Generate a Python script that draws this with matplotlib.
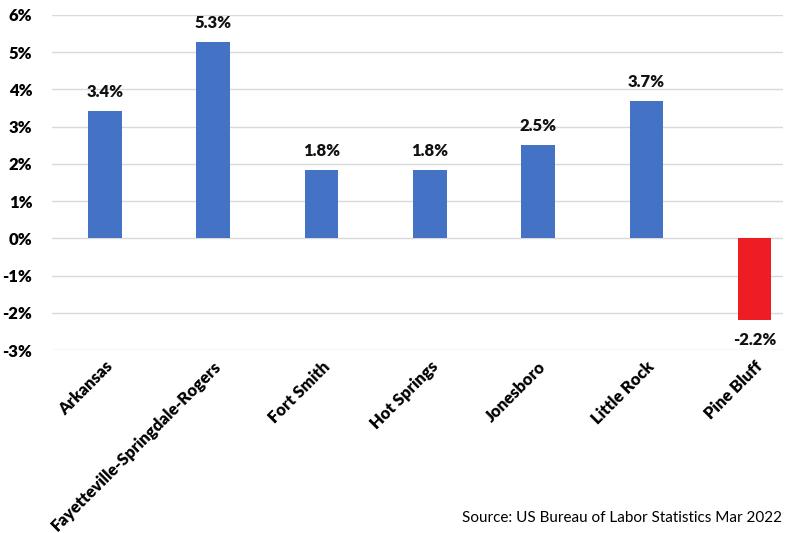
import matplotlib
matplotlib.use("Agg")
from matplotlib import pyplot as plt
from matplotlib.ticker import FuncFormatter

plt.rcParams['font.family'] = ['Lato', 'DejaVu Sans']

# dados
areas = ["Arkansas", "Fayetteville-Springdale-Rogers", "Fort Smith",
         "Hot Springs", "Jonesboro", "Little Rock", "Pine Bluff"]
variacao = [3.41, 5.26, 1.83, 1.84, 2.5, 3.68, -2.2]
rotulos = ["3.4%", "5.3%", "1.8%", "1.8%", "2.5%", "3.7%", "-2.2%"]

cores = ["#4472C4" if v >= 0 else "#EE1D23" for v in variacao]

fig = plt.figure(figsize=(7.86, 5.33), dpi=100)
ax = fig.add_axes([0.066, 0.343, 0.93, 0.629])

x = range(len(areas))
ax.bar(x, variacao, width=0.31, color=cores, zorder=3)

for i, v in enumerate(variacao):
    if v >= 0:
        ax.text(i, v + 0.3, rotulos[i], ha='center', va='bottom',
                fontsize=12, fontweight='heavy', color='#111111')
    else:
        ax.text(i, v - 0.3, rotulos[i], ha='center', va='top',
                fontsize=12, fontweight='heavy', color='#111111')

ax.set_ylim(-3, 6)
ax.set_xlim(-0.49, 6.26)
ax.set_yticks(range(-3, 7))
ax.yaxis.set_major_formatter(FuncFormatter(lambda v, p: "%d%%" % v))
ax.grid(True, axis='y', color='#D9D9D9', linewidth=1, zorder=0)
for s in ax.spines.values():
    s.set_visible(False)
ax.tick_params(length=0)
ax.tick_params(axis='y', pad=14)
ax.tick_params(axis='x', pad=6)

ax.set_xticks(list(x))
ax.set_xticklabels(areas, rotation=45, ha='right', rotation_mode='anchor',
                   fontsize=12, fontweight='heavy')
for t in ax.get_yticklabels():
    t.set_fontsize(12)
    t.set_fontweight('heavy')

fig.text(0.995, 0.028, "Source: US Bureau of Labor Statistics Mar 2022",
         ha='right', va='center', fontsize=11)

fig.savefig("out.png", dpi=100)
